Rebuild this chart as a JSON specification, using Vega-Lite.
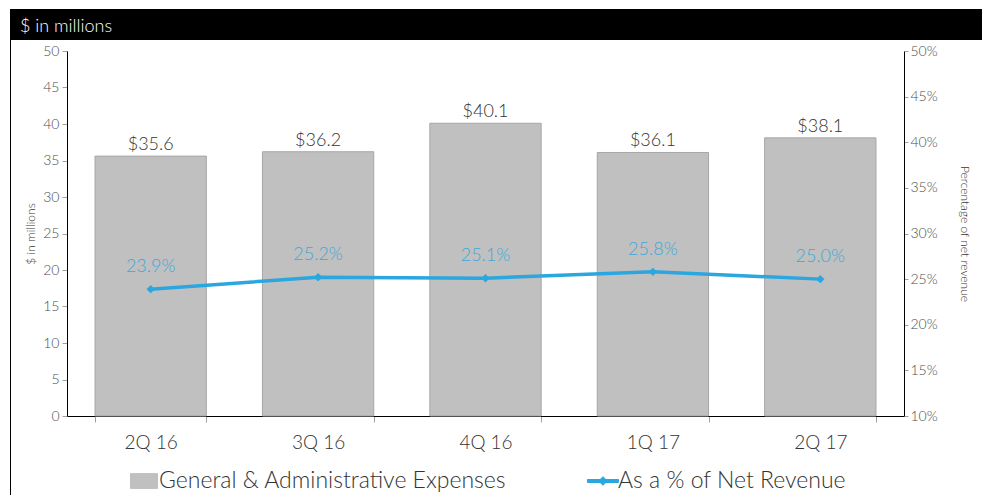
{
  "$schema": "https://vega.github.io/schema/vega-lite/v6.json",
  "padding": {"left": 10, "top": 9, "right": 0, "bottom": 0},
  "background": "white",
  "config": {"view": {"stroke": null}, "font": "Lato"},
  "hconcat": [
    {
      "width": 1,
      "height": 486,
      "data": {"values": [{"part": "frame"}]},
      "mark": {"type": "rect", "color": "black"},
      "encoding": {}
    },
    {
      "vconcat": [
        {
          "width": 971,
          "height": 31,
          "data": {"values": [{"part": "header"}]},
          "mark": {"type": "rect", "color": "black"},
          "encoding": {},
          "title": {"text": "$ in millions", "anchor": "start", "frame": "group", "color": "white", "fontSize": 18, "fontWeight": 300, "font": "Lato", "offset": -27, "dx": 9}
        },
        {
          "width": 893,
          "height": 365,
          "data": {"values": [
            {"quarter": "2Q 16", "expenses": 35.6, "pct": 0.239},
            {"quarter": "3Q 16", "expenses": 36.2, "pct": 0.252},
            {"quarter": "4Q 16", "expenses": 40.1, "pct": 0.251},
            {"quarter": "1Q 17", "expenses": 36.1, "pct": 0.258},
            {"quarter": "2Q 17", "expenses": 38.1, "pct": 0.250}
          ]},
          "encoding": {
            "x": {
              "field": "quarter", "type": "nominal", "sort": null,
              "scale": {"range": [56, 893], "paddingInner": 0.335, "paddingOuter": 0.1675},
              "axis": {"title": null,
                "labelAngle": 0, "labelFontSize": 19, "labelFontWeight": 300, "labelColor": "#333333", "labelPadding": 11, "labelFont": "Lato",
                "domainColor": "black", "domainWidth": 1, "tickColor": "#a0a0a0", "tickSize": 6, "tickBand": "extent"}
            }
          },
          "layer": [
            {
              "encoding": {
                "y": {"field": "expenses", "type": "quantitative", "scale": {"domain": [0, 50]},
                  "axis": {"title": "$ in millions", "offset": -56, "values": [0, 5, 10, 15, 20, 25, 30, 35, 40, 45, 50], "grid": false,
                    "domainColor": "black", "tickColor": "#a0a0a0", "tickSize": 5,
                    "labelFontSize": 14, "labelFontWeight": 300, "labelColor": "#4d4d4d", "labelPadding": 3, "labelFont": "Lato",
                    "titleFontSize": 12, "titleFontWeight": 300, "titleColor": "#333333", "titlePadding": 5, "titleFont": "Lato"}}
              },
              "layer": [
                {
                  "mark": {"type": "bar", "stroke": "#a6a6a6", "strokeWidth": 1},
                  "encoding": {
                    "color": {"datum": "General & Administrative Expenses", "type": "nominal",
                      "scale": {"domain": ["General & Administrative Expenses", "As a % of Net Revenue"], "range": ["#c0c0c0", "#2aa7df"]},
                      "legend": {"orient": "none", "legendX": 120, "legendY": 458, "direction": "horizontal", "title": null,
                        "labelFontSize": 23, "labelFontWeight": 300, "labelColor": "#333333", "labelFont": "Lato", "labelLimit": 600, "symbolSize": 729,
                        "labelOffset": 1, "columnPadding": 78,
                        "encode": {"symbols": {"update": {
                          "shape": {"signal": "datum.value === 'As a % of Net Revenue' ? 'M-1.15,-0.11H1.15V0.11H-1.15Z M0,-0.32L0.32,0L0,0.32L-0.32,0Z' : 'M-1,-0.55H1V0.55H-1Z'"},
                          "fill": {"signal": "datum.value === 'As a % of Net Revenue' ? '#2aa7df' : '#c0c0c0'"},
                          "stroke": {"signal": "datum.value === 'As a % of Net Revenue' ? 'transparent' : '#a6a6a6'"},
                          "strokeWidth": {"value": 1},
                          "opacity": {"value": 1}
                        }}}
                      }
                    }
                  }
                },
                {
                  "mark": {"type": "text", "baseline": "alphabetic", "dy": -6, "fontSize": 18, "fontWeight": 300, "color": "#333333", "font": "Lato"},
                  "encoding": {"text": {"field": "expenses", "format": "$.1f"}}
                }
              ]
            },
            {
              "encoding": {
                "y": {"field": "pct", "type": "quantitative", "scale": {"domain": [0.1, 0.5]},
                  "axis": {"orient": "right", "title": "Percentage of net revenue", "format": ".0%",
                    "values": [0.1, 0.15, 0.2, 0.25, 0.3, 0.35, 0.4, 0.45, 0.5], "grid": false,
                    "domainColor": "black", "tickColor": "#a0a0a0", "tickSize": 4,
                    "labelFontSize": 14, "labelFontWeight": 300, "labelColor": "#4d4d4d", "labelPadding": 2, "labelFont": "Lato",
                    "titleFontSize": 12, "titleFontWeight": 300, "titleColor": "#333333", "titlePadding": 20, "titleFont": "Lato"}}
              },
              "layer": [
                {
                  "mark": {"type": "line", "strokeWidth": 3.5, "point": {"shape": "diamond", "size": 70, "filled": true}},
                  "encoding": {"color": {"datum": "As a % of Net Revenue", "type": "nominal",
                    "legend": {"orient": "none", "legendX": 120, "legendY": 458, "direction": "horizontal", "title": null,
                        "labelFontSize": 23, "labelFontWeight": 300, "labelColor": "#333333", "labelFont": "Lato", "labelLimit": 600, "symbolSize": 729,
                        "labelOffset": 1, "columnPadding": 78,
                        "encode": {"symbols": {"update": {
                          "shape": {"signal": "datum.value === 'As a % of Net Revenue' ? 'M-1.15,-0.11H1.15V0.11H-1.15Z M0,-0.32L0.32,0L0,0.32L-0.32,0Z' : 'M-1,-0.55H1V0.55H-1Z'"},
                          "fill": {"signal": "datum.value === 'As a % of Net Revenue' ? '#2aa7df' : '#c0c0c0'"},
                          "stroke": {"signal": "datum.value === 'As a % of Net Revenue' ? 'transparent' : '#a6a6a6'"},
                          "strokeWidth": {"value": 1},
                          "opacity": {"value": 1}
                        }}}
                      }}}
                },
                {
                  "mark": {"type": "text", "baseline": "alphabetic", "dy": -17, "fontSize": 18, "fontWeight": 300, "color": "#3da8d8", "font": "Lato"},
                  "encoding": {"text": {"field": "pct", "format": ".1%"}}
                }
              ]
            }
          ],
          "resolve": {"scale": {"y": "independent"}}
        }
      ],
      "spacing": 4
    }
  ],
  "spacing": 0
}
